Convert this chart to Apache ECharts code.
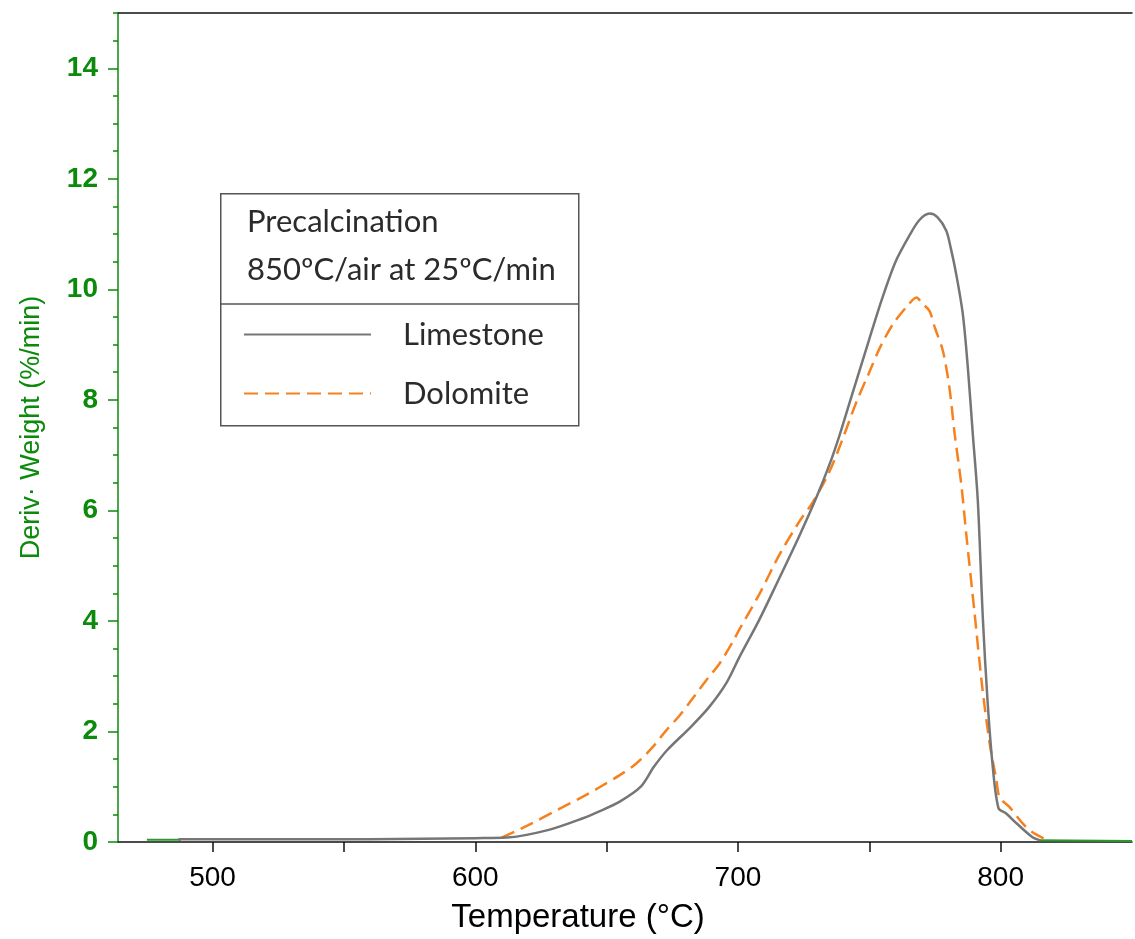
<!DOCTYPE html>
<html>
<head>
<meta charset="utf-8">
<script src="https://cdn.jsdelivr.net/npm/echarts@6/dist/echarts.min.js"></script>
<style>
  html, body { margin: 0; padding: 0; background: #fff; }
  #chart { width: 1135px; height: 939px; }
</style>
</head>
<body>
<div id="chart"></div>
<script>
// DTG curves (temperature in °C, deriv. weight in %/min)
var limeTemp = [487, 520, 560, 600, 612, 628, 641, 647, 655, 663, 668, 673, 682, 689, 695.5, 700.6, 708, 716, 723, 730, 735, 738.6, 742.5, 750, 755, 760, 765, 769, 773, 776, 779.3, 781, 783.1, 785.6, 787.5, 789.4, 791.3, 793.2, 795, 797, 799.2, 802, 806, 812, 815];
var limeVal  = [0.05, 0.05, 0.05, 0.07, 0.08, 0.22, 0.43, 0.55, 0.73, 1.0, 1.36, 1.66, 2.08, 2.44, 2.87, 3.35, 4.01, 4.8, 5.5, 6.25, 6.85, 7.35, 7.95, 9.1, 9.85, 10.5, 10.95, 11.25, 11.37, 11.3, 11.06, 10.75, 10.27, 9.55, 8.59, 7.38, 6.18, 4.07, 2.56, 1.36, 0.61, 0.52, 0.34, 0.09, 0.03];

var doloTemp = [610, 620, 632, 641, 647.3, 655, 661.3, 667.6, 672.7, 677.8, 682.8, 688, 693, 698, 700.6, 708.2, 715.8, 723.4, 728.5, 734.8, 739.9, 745, 750, 754, 759, 765, 768, 770, 772.9, 775, 778, 780.5, 782.5, 785, 786.9, 790.1, 793, 795.8, 798.4, 799.6, 803.4, 808.3, 812, 817.5];
var doloVal  = [0.08, 0.3, 0.6, 0.82, 0.99, 1.21, 1.42, 1.72, 2.02, 2.29, 2.6, 2.93, 3.23, 3.62, 3.85, 4.49, 5.2, 5.8, 6.15, 6.7, 7.3, 7.95, 8.5, 8.94, 9.37, 9.73, 9.85, 9.75, 9.61, 9.3, 8.89, 8.22, 7.38, 6.48, 5.57, 4.13, 2.8, 1.79, 1.12, 0.81, 0.63, 0.34, 0.18, 0.04];

// green baseline trace that peeks out at both ends (null = hidden under the other curves)
var baseTemp = [475, 488, 650, 815, 850];
var baseVal  = [0.04, 0.04, null, 0.03, 0.02];

var xMajor = [500, 600, 700, 800];
var xTicks = [500, 550, 600, 650, 700, 750, 800];
var yMajor = [0, 2, 4, 6, 8, 10, 12, 14];

var GREEN = '#0b8a0b';
var GRAY = '#767676';
var ORANGE = '#f5821f';

function pairs(xs, ys) {
  var out = [];
  for (var i = 0; i < xs.length; i++) out.push([xs[i], ys[i] == null ? '-' : ys[i]]);
  return out;
}

var chart = echarts.init(document.getElementById('chart'));

var option = {
  animation: false,
  backgroundColor: '#fff',
  grid: { left: 118, right: 3, top: 13, bottom: 97 },
  legend: {
    data: ['Limestone', 'Dolomite'],
    orient: 'vertical',
    left: 243,
    top: 319,
    padding: 0,
    itemWidth: 127,
    itemHeight: 14,
    itemGap: 28,
    selectedMode: false,
    itemStyle: { opacity: 0 },
    textStyle: {
      fontFamily: 'Lato', fontSize: 31, color: '#2b2b2b',
      lineHeight: 30, padding: [0, 0, 0, 27]
    }
  },
  xAxis: [{
    type: 'value', min: 464, max: 850, splitNumber: 4,
    name: 'Temperature (°C)', nameLocation: 'middle', nameGap: 59,
    nameTextStyle: { fontFamily: 'Liberation Sans', fontSize: 33, color: '#000', padding: [0, 94, 0, 0] },
    axisLine: { lineStyle: { color: '#111', width: 1.5 } },
    axisTick: { customValues: xTicks, length: 10, lineStyle: { color: '#111', width: 1.5 } },
    axisLabel: { customValues: xMajor, margin: 22, fontFamily: 'Liberation Sans', fontSize: 28, color: '#000' },
    splitLine: { show: false }
  }, {
    type: 'value', position: 'top', min: 464, max: 850,
    axisLine: { onZero: false, lineStyle: { color: '#111', width: 1.5 } },
    axisTick: { show: false }, axisLabel: { show: false }, splitLine: { show: false }
  }],
  yAxis: [{
    type: 'value', min: 0, max: 15, interval: 2,
    name: 'Deriv· Weight (%/min)', nameLocation: 'middle', nameGap: 73,
    nameTextStyle: { fontFamily: 'Liberation Sans', fontSize: 27, color: GREEN },
    axisLine: { show: true, lineStyle: { color: GREEN, width: 1.5 } },
    axisTick: { customValues: yMajor, length: 10, lineStyle: { color: GREEN, width: 1.5 } },
    axisLabel: { customValues: yMajor, margin: 20, fontFamily: 'Liberation Sans', fontSize: 28, fontWeight: 'bold', color: GREEN },
    splitLine: { show: false }
  }, {
    type: 'value', position: 'left', min: 0, max: 15, interval: 0.5,
    axisLine: { show: false },
    axisTick: { show: true, length: 5, lineStyle: { color: GREEN, width: 1.5 } },
    axisLabel: { show: false }, splitLine: { show: false }
  }],
  series: [{
    name: 'baseline', type: 'line', symbol: 'none', z: 1,
    data: pairs(baseTemp, baseVal),
    lineStyle: { color: '#2a9a2a', width: 2 }
  }, {
    name: 'Limestone', type: 'line', symbol: 'none', smooth: 0.3, z: 3,
    data: pairs(limeTemp, limeVal),
    itemStyle: { color: GRAY },
    lineStyle: { color: GRAY, width: 2.5 }
  }, {
    name: 'Dolomite', type: 'line', symbol: 'none', smooth: 0.3, z: 2,
    data: pairs(doloTemp, doloVal),
    itemStyle: { color: ORANGE },
    lineStyle: { color: ORANGE, width: 2.5, type: [14, 7] }
  }],
  graphic: [{
    type: 'rect', left: 220, top: 193, z: 0,
    shape: { width: 358, height: 232 },
    style: { fill: '#fff', stroke: '#555', lineWidth: 1.5 }
  }, {
    type: 'line', z: 1,
    shape: { x1: 220, y1: 304, x2: 578, y2: 304 },
    style: { stroke: '#555', lineWidth: 1.5 }
  }, {
    type: 'text', left: 247, top: 206, z: 1,
    style: { text: 'Precalcination', fontFamily: 'Lato', fontSize: 31, fill: '#2b2b2b' }
  }, {
    type: 'text', left: 247, top: 254, z: 1,
    style: { text: '850ºC/air at 25ºC/min', fontFamily: 'Lato', fontSize: 31, fill: '#2b2b2b' }
  }]
};

chart.setOption(option);
</script>
</body>
</html>
